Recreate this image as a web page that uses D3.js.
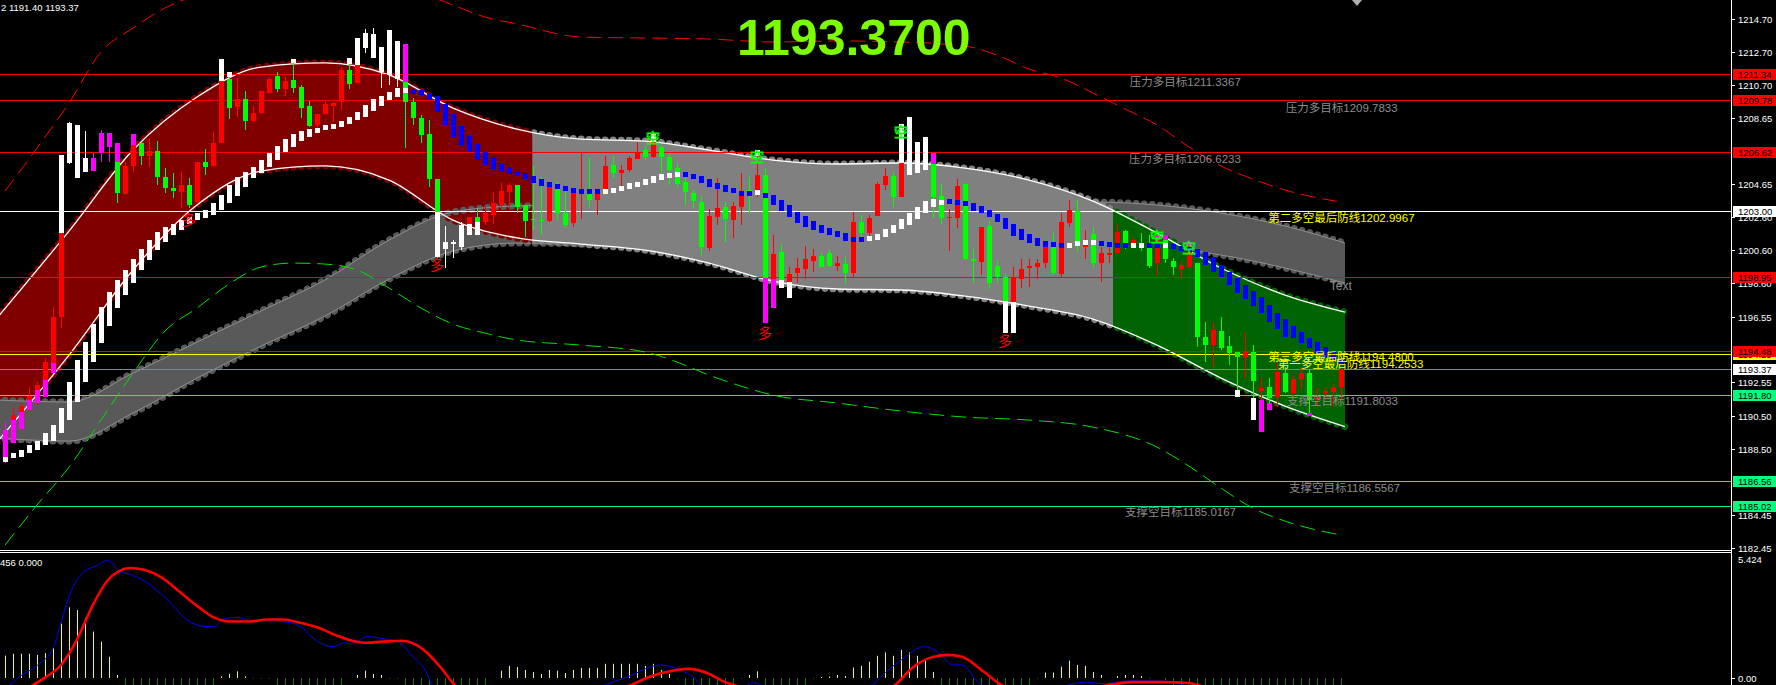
<!DOCTYPE html>
<html><head><meta charset="utf-8">
<script src="https://cdn.jsdelivr.net/npm/d3@7"></script>
<style>
html,body{margin:0;padding:0;background:#000;overflow:hidden}
svg{display:block}
text{font-family:"Liberation Sans",Arial,"Noto Sans CJK SC",sans-serif}
</style></head><body>
<svg id="c" width="1776" height="685"></svg>
<script>
// ---------------- DATA ----------------
const open=[1189.64,1189.13,1189.68,1190.86,1191.27,1191.67,1193.10,1196.55,1205.90,1205.39,
1205.39,1205.45,1206.51,1206.92,1207.12,1204.03,1205.74,1207.12,1206.35,1206.65,
1205.05,1204.38,1204.17,1204.58,1203.56,1205.96,1205.76,1207.16,1211.02,1209.31,
1209.82,1208.50,1208.95,1210.21,1211.23,1210.43,1210.98,1210.57,1209.40,1208.24,
1208.91,1209.40,1209.66,1211.59,1210.78,1212.91,1212.30,1211.49,1211.29,1211.02,
1213.18,1209.66,1208.64,1207.69,1204.92,1200.66,1201.06,1200.82,1201.53,1202.65,
1202.34,1202.75,1203.36,1204.17,1204.58,1203.36,1202.51,1202.44,1202.38,1204.34,
1202.85,1202.24,1204.03,1204.11,1203.66,1204.17,1205.80,1205.33,1205.49,1206.14,
1206.71,1206.31,1206.92,1206.31,1205.64,1204.78,1204.07,1203.56,1200.72,1202.65,
1203.22,1202.44,1203.26,1204.27,1204.17,1205.19,1197.06,1200.51,1197.67,1199.19,
1199.44,1199.97,1200.25,1200.41,1199.66,1199.74,1199.19,1202.34,1201.63,1202.69,
1204.58,1205.13,1203.87,1205.90,1205.90,1205.90,1206.55,1203.91,1202.59,1202.59,
1204.62,1200.09,1199.90,1202.08,1199.64,1198.99,1195.53,1198.83,1199.50,1199.56,
1199.80,1201.02,1199.15,1202.24,1203.01,1200.82,1201.59,1199.80,1200.31,1200.41,
1201.77,1201.02,1201.06,1200.82,1199.80,1201.53,1199.97,1199.44,1199.56,1199.80,
1195.29,1194.82,1195.68,1194.76,1194.42,1194.11,1194.42,1192.04,1192.24,1191.67,
1193.14,1191.92,1192.73,1193.14,1191.47,1191.88,1191.98,1192.28];
const high=[1190.11,1190.96,1191.27,1192.28,1192.59,1194.01,1197.16,1206.41,1208.44,1208.24,
1207.87,1206.51,1207.93,1207.73,1207.12,1206.00,1207.69,1207.12,1207.42,1207.26,
1205.60,1205.29,1205.39,1204.99,1205.96,1206.77,1207.83,1212.24,1211.49,1211.08,
1210.31,1209.40,1210.31,1211.18,1211.49,1211.14,1212.24,1210.68,1209.72,1208.91,
1209.72,1209.66,1211.69,1212.30,1213.52,1214.07,1214.13,1213.01,1214.03,1213.36,
1213.18,1209.86,1208.85,1208.54,1204.92,1202.08,1201.23,1202.34,1202.65,1203.10,
1203.30,1204.15,1204.68,1204.68,1204.58,1203.36,1205.76,1205.09,1204.74,1204.74,
1204.27,1204.38,1206.61,1206.21,1204.27,1206.35,1206.35,1205.80,1206.35,1207.18,
1206.96,1207.73,1207.02,1206.51,1205.90,1205.09,1204.27,1203.91,1203.12,1204.99,
1203.56,1203.56,1205.29,1205.09,1206.71,1205.60,1201.53,1200.98,1199.56,1200.15,
1200.86,1200.66,1200.41,1200.62,1200.25,1200.21,1202.95,1202.75,1202.75,1204.74,
1205.60,1205.39,1208.30,1208.75,1207.22,1207.53,1206.55,1204.64,1203.10,1204.92,
1204.68,1200.66,1202.04,1202.40,1200.01,1199.19,1199.60,1200.05,1200.05,1200.05,
1201.02,1201.63,1202.85,1203.66,1203.66,1201.84,1202.04,1200.82,1201.02,1202.20,
1201.84,1201.33,1201.63,1201.53,1201.53,1201.53,1200.11,1199.90,1201.12,1199.84,
1196.25,1196.25,1196.55,1195.37,1194.42,1195.53,1194.82,1192.79,1192.79,1193.81,
1193.50,1192.99,1193.50,1193.30,1192.28,1192.18,1192.48,1193.50];
const low=[1187.61,1188.87,1189.64,1190.82,1191.16,1191.67,1193.10,1195.84,1205.86,1204.99,
1205.39,1205.45,1206.00,1206.00,1203.46,1203.97,1205.39,1205.80,1205.70,1204.58,
1204.07,1203.77,1203.16,1203.16,1203.46,1205.19,1205.70,1207.12,1208.58,1208.75,
1207.93,1208.38,1208.89,1210.17,1210.27,1210.01,1210.21,1208.64,1208.10,1208.10,
1208.85,1208.44,1209.15,1210.41,1210.78,1212.61,1212.30,1210.47,1210.68,1210.57,
1206.81,1208.24,1207.12,1204.48,1200.11,1199.50,1200.11,1200.62,1201.53,1201.53,
1202.14,1202.18,1203.26,1203.26,1202.89,1201.43,1201.84,1201.53,1202.34,1202.44,
1201.94,1202.00,1202.51,1203.26,1202.75,1204.07,1204.99,1204.48,1205.39,1206.14,
1206.10,1206.21,1205.29,1204.58,1204.48,1203.36,1203.16,1200.31,1200.57,1202.14,
1201.12,1201.33,1202.14,1202.89,1203.87,1196.14,1197.06,1198.28,1197.67,1198.58,
1198.83,1199.29,1199.56,1199.60,1199.36,1198.52,1198.89,1201.43,1201.23,1202.69,
1204.27,1203.26,1203.87,1205.19,1205.29,1205.49,1202.55,1202.20,1200.55,1201.94,
1200.01,1198.58,1199.09,1198.22,1198.58,1195.53,1195.53,1198.28,1198.38,1198.83,
1199.50,1199.09,1198.89,1202.04,1200.51,1200.05,1199.50,1198.68,1199.80,1200.41,
1200.66,1200.82,1200.57,1199.50,1199.09,1199.84,1199.09,1198.83,1199.50,1194.72,
1193.81,1193.50,1194.52,1193.60,1191.63,1192.79,1190.25,1189.54,1190.86,1191.06,
1191.88,1191.67,1192.08,1190.49,1191.06,1191.47,1191.06,1191.40];
const close=[1187.71,1190.55,1191.10,1191.71,1192.38,1193.81,1196.55,1206.41,1208.34,1208.24,
1206.21,1206.21,1207.73,1207.73,1204.07,1205.74,1207.69,1206.35,1206.65,1205.09,
1204.38,1204.23,1204.58,1203.36,1205.96,1205.70,1207.12,1212.24,1209.29,1209.80,
1208.50,1208.95,1210.31,1211.02,1210.43,1210.92,1210.47,1209.25,1208.18,1208.91,
1209.52,1209.60,1211.59,1210.74,1213.52,1213.83,1213.79,1213.01,1214.03,1213.36,
1209.66,1208.64,1207.63,1204.92,1200.21,1201.12,1201.12,1202.14,1202.65,1201.53,
1202.85,1203.50,1204.21,1204.58,1203.26,1202.38,1202.44,1202.38,1204.48,1202.85,
1202.14,1204.11,1204.21,1203.66,1204.11,1205.74,1205.29,1205.49,1206.25,1206.55,
1206.27,1207.73,1206.31,1205.49,1204.64,1204.17,1203.62,1200.82,1202.71,1203.20,
1202.51,1203.32,1204.07,1203.97,1205.19,1196.14,1200.37,1198.28,1199.15,1199.50,
1200.05,1200.25,1199.60,1199.66,1199.80,1199.19,1202.34,1201.63,1202.59,1204.64,
1205.13,1203.87,1208.30,1208.75,1207.22,1207.53,1203.87,1202.59,1202.65,1204.52,
1200.05,1199.97,1202.04,1198.58,1198.99,1195.53,1198.99,1199.44,1199.64,1199.80,
1200.78,1199.19,1202.34,1203.05,1201.12,1201.06,1199.80,1200.41,1200.41,1201.73,
1200.72,1201.23,1200.72,1199.64,1201.53,1200.05,1199.60,1199.70,1201.12,1195.33,
1194.82,1195.74,1194.62,1194.36,1194.07,1194.42,1192.65,1192.18,1191.57,1193.20,
1191.98,1192.73,1193.14,1191.47,1191.67,1192.04,1192.28,1193.37];

// signal overlays (band-breakout painting): bar index, top, bottom, type (w = white, m = magenta)
const sigIdx=[0,1,2,3,4,5,6,7,8,9,10,11,12,13,14,16,27,28,36,43,44,45,46,47,48,49,50,54,55,56,57,58,59,81,94,95,96,97,98,112,113,114,115,116,125,126,144,145,148,154,156,157,158,163];
const sigHi=[1189.64,1190.25,1190.76,1191.47,1192.08,1192.69,1193.71,1206.41,1208.34,1208.24,1206.21,1206.21,1207.73,1207.73,1207.12,1207.69,1212.24,1211.49,1212.24,1212.30,1213.52,1213.83,1213.79,1213.01,1214.03,1213.36,1213.18,1202.95,1201.12,1201.12,1202.14,1202.20,1202.34,1207.73,1206.71,1198.89,1198.83,1198.79,1198.68,1208.30,1208.75,1207.22,1207.53,1206.55,1197.53,1197.47,1201.53,1201.53,1201.12,1192.08,1191.61,1191.47,1191.27,1190.66];
const sigLo=[1187.71,1188.87,1189.68,1190.86,1191.27,1191.67,1193.10,1201.63,1205.90,1204.99,1205.39,1205.45,1206.51,1206.92,1206.00,1207.02,1210.92,1211.18,1212.00,1211.94,1211.90,1212.91,1212.30,1211.49,1211.29,1211.02,1210.88,1200.21,1200.66,1201.06,1200.82,1201.53,1201.53,1207.22,1206.35,1196.14,1197.06,1198.28,1197.67,1205.90,1205.19,1205.29,1205.49,1205.86,1195.53,1195.53,1201.23,1201.23,1200.86,1191.63,1190.25,1189.54,1190.86,1190.49];
const sigType="mmmmmmmwwwwmmmmmwwwwwwwwwwmwwwwwwwwmmwwwwwwmwwmmmwwmmm";

// trend line (two buffers painted as a bar), direction runs: [rising?, count]
const maHi=[1188.01,1188.22,1188.42,1188.73,1188.99,1189.44,1189.94,1190.96,1192.59,1193.91,
1195.03,1196.10,1197.16,1198.08,1198.79,1199.40,1200.05,1200.66,1201.23,1201.73,
1202.00,1202.20,1202.44,1202.65,1202.85,1203.05,1203.46,1203.97,1204.58,1205.09,
1205.39,1205.70,1206.10,1206.55,1206.96,1207.36,1207.67,1207.87,1207.99,1208.08,
1208.18,1208.24,1208.50,1208.75,1209.05,1209.46,1209.82,1210.01,1210.27,1210.47,
1210.47,1210.33,1210.33,1210.21,1210.01,1209.52,1208.91,1208.24,1207.63,1207.08,
1206.61,1206.27,1205.90,1205.66,1205.45,1205.29,1205.15,1204.92,1204.78,1204.64,
1204.52,1204.38,1204.27,1204.21,1204.21,1204.21,1204.31,1204.48,1204.68,1204.78,
1204.94,1205.13,1205.25,1205.25,1205.25,1205.25,1205.19,1205.13,1204.94,1204.72,
1204.58,1204.38,1204.21,1204.17,1204.17,1204.11,1203.97,1203.66,1203.36,1202.95,
1202.69,1202.38,1202.14,1201.94,1201.77,1201.63,1201.43,1201.33,1201.37,1201.59,
1201.88,1202.16,1202.49,1202.89,1203.22,1203.60,1203.73,1203.66,1203.60,1203.56,
1203.56,1203.48,1203.30,1203.05,1202.81,1202.55,1202.20,1201.88,1201.57,1201.33,
1201.16,1201.06,1200.96,1201.02,1201.12,1201.12,1201.12,1201.12,1201.02,1200.98,
1200.92,1200.92,1200.92,1200.92,1200.92,1200.92,1200.92,1200.82,1200.76,1200.66,
1200.51,1200.17,1199.70,1199.29,1198.89,1198.48,1198.14,1197.77,1197.26,1196.75,
1196.39,1195.98,1195.64,1195.23,1195.03,1194.72,1194.42,1194.11];
const maLo=[1187.71,1187.91,1188.01,1188.22,1188.42,1188.73,1188.99,1189.44,1190.25,1191.37,
1192.59,1193.81,1194.97,1195.98,1197.06,1197.87,1198.62,1199.40,1200.01,1200.62,
1201.12,1201.53,1201.84,1202.20,1202.44,1202.55,1202.75,1203.05,1203.50,1203.91,
1204.48,1204.99,1205.33,1205.70,1206.10,1206.61,1206.92,1207.28,1207.53,1207.77,
1207.97,1208.03,1208.10,1208.30,1208.54,1208.75,1209.11,1209.42,1209.76,1209.97,
1210.17,1210.17,1210.07,1209.76,1209.05,1208.24,1207.53,1206.96,1206.61,1206.10,
1205.80,1205.49,1205.39,1205.25,1205.13,1204.88,1204.72,1204.54,1204.44,1204.34,
1204.23,1204.11,1204.07,1204.11,1204.11,1204.11,1204.15,1204.25,1204.36,1204.44,
1204.58,1204.68,1204.88,1205.03,1205.15,1205.13,1205.05,1204.72,1204.48,1204.34,
1204.17,1204.07,1203.97,1203.97,1204.03,1203.77,1203.36,1203.01,1202.61,1202.28,
1202.04,1201.84,1201.63,1201.53,1201.39,1201.18,1201.12,1201.23,1201.23,1201.23,
1201.39,1201.63,1201.88,1202.14,1202.53,1202.89,1203.22,1203.42,1203.50,1203.46,
1203.36,1203.01,1202.85,1202.61,1202.30,1201.88,1201.47,1201.23,1201.06,1200.86,
1200.82,1200.82,1200.82,1200.82,1200.86,1201.02,1201.02,1200.92,1200.88,1200.82,
1200.82,1200.82,1200.82,1200.82,1200.82,1200.82,1200.72,1200.62,1200.57,1200.21,
1199.70,1199.29,1198.95,1198.48,1198.01,1197.61,1197.20,1196.75,1196.25,1195.78,
1195.29,1195.23,1194.97,1194.62,1194.31,1194.01,1193.81,1193.60];
const maDirRuns=[[1,51],[0,24],[1,10],[0,9],[1,1],[0,13],[1,10],[0,15],[1,4],[0,4],[1,2],[0,2],[1,1],[0,22]];

// regression channel (bar index -> upper / lower price) and regime breaks
const chIdx=[-1,8,16,24,32,40,48,56,64,72,80,88,96,104,112,120,128,136,144,152,160,167.5];
const chUp=[1196.47,1201.77,1206.71,1209.94,1211.77,1212.02,1211.29,1209.27,1207.99,1207.38,1207.26,1206.71,1206.10,1205.86,1205.92,1205.61,1204.88,1203.60,1201.65,1199.52,1197.87,1196.83];
const chDn=[1188.91,1194.21,1199.40,1203.36,1205.43,1205.74,1204.88,1202.44,1201.35,1200.98,1200.61,1199.82,1198.72,1198.24,1198.18,1197.81,1197.20,1196.41,1194.82,1192.81,1191.10,1189.85];
const regimeBreaks=[65.9,138.5];

// second (dark) channel
const dkIdx=[-1,8,16,24,32,40,48,56,64,80,96,112,128,136,144,152,160,167.5];
const dkUp=[1191.47,1191.35,1193.11,1195.00,1196.90,1198.79,1201.22,1202.93,1203.30,1203.42,1203.48,1203.48,1203.54,1203.54,1203.36,1202.87,1202.08,1201.04];
const dkDn=[1189.15,1188.97,1190.68,1192.81,1194.76,1196.59,1198.85,1200.55,1201.04,1200.92,1200.79,1200.74,1200.67,1200.67,1200.74,1200.31,1199.52,1198.60];

// envelopes (dashed)
const envUpIdx=[0,4,8,12,16,20,24,32,40,48,56,60,64,72,80,88,96,104,112,120,124,128,132,136,140,144,148,152,156,160,167];
const envUp=[1204.21,1206.83,1209.58,1212.69,1214.15,1215.37,1216.16,1217.08,1217.39,1216.96,1215.55,1214.82,1214.40,1213.60,1213.54,1213.48,1213.30,1213.36,1213.30,1213.05,1212.50,1211.65,1211.10,1210.19,1209.21,1208.24,1206.90,1205.74,1204.94,1204.27,1203.54];
const envLoIdx=[0,4,8,12,16,20,24,28,32,36,40,44,48,52,56,60,64,72,80,84,88,92,96,104,112,120,128,136,144,148,152,156,160,167];
const envLo=[1182.63,1185.07,1187.38,1190.25,1193.11,1195.68,1197.08,1198.54,1199.58,1199.82,1199.76,1199.40,1198.30,1197.08,1196.10,1195.55,1195.13,1194.82,1194.40,1193.79,1192.99,1192.32,1191.77,1191.29,1190.80,1190.43,1190.25,1189.82,1188.60,1187.44,1186.10,1184.88,1184.09,1183.24];

// horizontal levels
const levelPrice=[1194.25,1211.34,1209.78,1206.62,1203.00,1198.95,1194.48,1193.37,1191.80,1186.56,1185.02];
const levelKind=['aux','res','res','res','pivot','res','res','last','sup','sup','sup'];

// text objects: text, bar index of left edge, price at text centre, kind
const noteText=["压力多目标1211.3367","压力多目标1209.7833","压力多目标1206.6233","第二多空最后防线1202.9967","Text","第三多空最后防线1194.4800","第一多空最后防线1194.2533","支撑空目标1191.8033","支撑空目标1186.5567","支撑空目标1185.0167"];
const noteIdx=[140.6,160.1,140.5,157.9,165.6,157.9,159.1,160.25,160.5,140.0];
const notePrice=[1210.86,1209.27,1206.16,1202.57,1198.42,1194.09,1193.66,1191.41,1186.10,1184.64];
const noteKind=['gray','gray','gray','yellow','gray','yellow','yellow','gray','gray','gray'];

// signal glyphs
const buyIdx=[23,54,95,125];
const buyPrice=[1202.44,1199.70,1195.55,1195.07];
const sellIdx=[81,94,112,144,148];
const sellPrice=[1207.44,1206.29,1207.81,1201.41,1200.74];

// price axis
const priceTicks=[1214.70,1212.70,1210.70,1208.65,1204.65,1202.60,1200.60,1198.60,1196.55,1192.55,1190.50,1188.50,1184.45,1182.45];
const lastPrice=1193.37;
const headerText="2 1191.40 1193.37";
const macdHeader="456 0.000";
const macdMax=5.424;

// MACD
const macdIdx=[-1,0.6,1.75,4.1,6.1,7,8.25,9.9,11.4,12.5,13,14.25,15.6,17.5,20,23.25,25.25,26.1,27.1,29,31,32.9,34.75,36.75,39.1,41,42.4,43.4,45.25,47.25,49.1,51,52.5,53.4,56,60,66,72,75,77.75,81.9,84.4,86.4,86.9,89,92,93.6,95,98,102,106,108.4,110.1,112.4,114.9,116.75,118.5,119.6,121.75,124,127,131,133.5,135.25,137.4,140.25,144.1,146.9,150,155,160,167];
const macdMain=[-0.8,-0.31,0.04,0.57,1.37,2.43,3.79,4.67,4.90,5.12,5.12,4.67,4.54,4.23,3.53,2.43,2.25,2.25,2.56,2.65,2.51,2.51,2.47,2.29,1.59,1.37,1.54,1.50,1.81,1.72,1.59,0.93,0.35,-0.31,-1.6,-2.0,-1.6,-0.9,-0.31,0.04,0.57,0.35,-0.09,-0.31,-0.8,-0.5,-0.2,-0.5,-1.5,-1.3,-0.7,-0.31,0.26,0.88,1.37,1.10,0.57,0.57,-0.22,-0.7,-0.9,-0.5,-0.26,-0.18,-0.26,-0.13,-0.13,-0.26,-1.0,-2.0,-2.5,-2.6];
const sigLineIdx=[-1,3.5,5.1,7,9,10.9,12.75,14.25,15.6,17.5,19.5,21.9,24.25,26.1,28.1,30.5,32.9,34.75,36.75,39.1,41.5,43.4,45.25,47.25,49.6,52,54.4,56,60,66,72,78.25,80.5,83.9,85.5,87.75,90,91.1,96,102,108,111.25,113.4,115.6,117.9,119.6,122.4,124.6,130,135,138,140.75,144.75,148,149.1,155,160,167];
const macdSignal=[-1.2,-0.31,0.04,0.57,1.68,3.13,4.23,4.67,4.81,4.72,4.41,3.75,3.09,2.65,2.47,2.47,2.56,2.56,2.43,2.21,1.85,1.63,1.54,1.59,1.63,1.32,0.49,-0.22,-1.2,-1.4,-1.0,-0.31,0.04,0.35,0.40,0.22,-0.18,-0.31,-0.9,-1.1,-0.8,-0.31,0.44,0.88,1.01,0.93,0.26,-0.31,-0.7,-0.5,-0.31,-0.18,-0.18,-0.22,-0.31,-1.2,-1.8,-2.2];
const macdHist=[0.98,1.06,1.06,1.06,1.01,1.09,1.31,2.38,3.09,2.97,2.63,2.03,1.59,0.93,0.13,
-0.5,-0.5,-0.5,-0.5,-0.5,-0.5,-0.5,-0.5,-0.5,-0.5,-0.5,-0.5,
0.07,0.19,0.29,0.07,-0.03,-0.03,-0.03,
-0.5,-0.5,-0.5,-0.5,-0.5,-0.5,-0.5,-0.5,-0.5,
0,0.13,0.32,0.18,0.13,-0.04,-0.04,
-0.5,-0.5,-0.5,-0.5,-0.5,-0.5,-0.5,-0.5,-0.5,-0.5,-0.5,
0,0.32,0.53,0.48,0.35,0.26,0.18,0.35,0.32,0.22,0.35,0.44,0.44,0.44,
0.62,0.62,0.62,0.62,0.62,0.53,0.62,0.35,0.18,-0.04,
-0.5,-0.5,-0.5,-0.5,-0.5,-0.5,-0.5,-0.04,0.13,0.29,
-0.5,-0.5,-0.5,-0.5,-0.5,-0.5,-0.04,
0.04,0.06,0.13,0.09,0.46,0.53,0.71,0.97,1.12,0.97,1.23,1.12,0.97,0.79,0.26,
-0.5,-0.5,-0.5,-0.5,-0.5,-0.5,-0.5,-0.5,-0.5,-0.5,-0.5,-0.5,-0.04,
0.24,0.24,0.50,0.76,0.57,0.53,0.26,0.13,0,0.09,0.13,0.13,0.09,-0.04,0,-0.1,
-0.5,-0.5,-0.5,-0.5,-0.5,-0.5,-0.5,-0.5,-0.5,-0.5,-0.5,-0.5,-0.5,-0.5,-0.5,-0.5,-0.5,-0.5,-0.5,-0.5,-0.5,-0.5];

// ---------------- DRAW ----------------
const W=1776,H=685,AX=1731;
const svg=d3.select('#c');
svg.append('rect').attr('width',W).attr('height',H).attr('fill','#000');
const defs=svg.append('defs');
function clip(id,x0,y0,w,h){defs.append('clipPath').attr('id',id).append('rect').attr('x',x0).attr('y',y0).attr('width',w).attr('height',h);return `url(#${id})`;}

const x=d3.scaleLinear().domain([0,167]).range([5,1341]);
const y=d3.scaleLinear().domain([1182.45,1214.70]).range([548,19]);
const ym=d3.scaleLinear().domain([0,macdMax]).range([678,554]);

const main=svg.append('g').attr('clip-path',clip('cm',0,0,AX,550));

function bandPaths(idx,up,dn){
  const pts=idx.map((i,k)=>({i,hi:up[k],lo:dn[k]}));
  const c=d3.curveMonotoneX;
  return {
    up:d3.line().x(d=>x(d.i)).y(d=>y(d.hi)).curve(c)(pts),
    dn:d3.line().x(d=>x(d.i)).y(d=>y(d.lo)).curve(c)(pts),
    area:d3.area().x(d=>x(d.i)).y0(d=>y(d.lo)).y1(d=>y(d.hi)).curve(c)(pts)
  };
}
function scallops(g,d,col){
  g.append('path').attr('d',d).attr('fill','none').attr('stroke',col).attr('stroke-width',7)
   .attr('stroke-linecap','round').attr('stroke-dasharray','0.01 8');
}
function edge(g,d,col,w){g.append('path').attr('d',d).attr('fill','none').attr('stroke',col).attr('stroke-width',w);}

const DK='#595959', DKL='#8e8e8e';
const dk=bandPaths(dkIdx,dkUp,dkDn);
const ch=bandPaths(chIdx,chUp,chDn);

// dark channel (under)
const gdk=main.append('g');
scallops(gdk,dk.up,DK);scallops(gdk,dk.dn,DK);
gdk.append('path').attr('d',dk.area).attr('fill',DK);
edge(gdk,dk.up,DKL,1);edge(gdk,dk.dn,DKL,1);

// main channel segments
const segCols=['#800000','#808080','#006400'];
const bx=[-20,x(regimeBreaks[0]),x(regimeBreaks[1]),x(168)+2];
segCols.forEach((col,k)=>{
  const g=main.append('g').attr('clip-path',clip('seg'+k,bx[k],0,bx[k+1]-bx[k],550));
  scallops(g,ch.up,col);scallops(g,ch.dn,col);
  g.append('path').attr('d',ch.area).attr('fill',col);
});
// dark channel on top on the far left
const gdk2=main.append('g').attr('clip-path',clip('dkl',-20,0,x(53)+20,550));
scallops(gdk2,dk.up,DK);scallops(gdk2,dk.dn,DK);
gdk2.append('path').attr('d',dk.area).attr('fill',DK);
edge(gdk2,dk.up,DKL,1);edge(gdk2,dk.dn,DKL,1);
const gdk3=main.append('g').attr('clip-path',clip('dkm',x(53),0,x(regimeBreaks[0])-x(53),550));
scallops(gdk3,dk.up,DK);edge(gdk3,dk.up,DKL,1);
// channel white edges
const gce=main.append('g').attr('clip-path',clip('cee',-20,0,x(167.5)+20,550));
edge(gce,ch.up,'#ffffff',1.3);edge(gce,ch.dn,'#ffffff',1.3);

// level lines
const lvlCol={res:'#ff0000',pivot:'#ffffff',aux:'#ffff00',last:'#778899',sup:'#00ff7f'};
levelPrice.forEach((p,k)=>{
  main.append('line').attr('x1',0).attr('x2',AX).attr('y1',Math.round(y(p))+0.5).attr('y2',Math.round(y(p))+0.5)
    .attr('stroke',lvlCol[levelKind[k]]).attr('stroke-width',1);
});

// dashed envelopes
main.append('path').attr('d',d3.line().x((d,k)=>x(envUpIdx[k])).y(d=>y(d)).curve(d3.curveMonotoneX)(envUp))
  .attr('fill','none').attr('stroke','#ff0000').attr('stroke-width',1).attr('stroke-dasharray','15 7');
main.append('path').attr('d',d3.line().x((d,k)=>x(envLoIdx[k])).y(d=>y(d)).curve(d3.curveMonotoneX)(envLo))
  .attr('fill','none').attr('stroke','#00e000').attr('stroke-width',1).attr('stroke-dasharray','15 7');

// candles
const BW=5;
const sigByIdx={};
sigIdx.forEach((i,k)=>sigByIdx[i]={hi:sigHi[k],lo:sigLo[k],t:sigType[k]});
const gc=main.append('g').attr('shape-rendering','crispEdges');
open.forEach((o,i)=>{
  const c=close[i], up=c>=o;
  let col=up?'#ff0000':'#00ff00';
  const s=sigByIdx[i];
  const sc=s?(s.t==='w'?'#ffffff':'#ff00ff'):null;
  let wickCol=col;
  if(s && s.hi>=Math.max(o,c)-0.05 && s.lo<=Math.min(o,c)+0.05) wickCol=sc;
  const cx=Math.round(x(i));
  gc.append('line').attr('x1',cx+0.5).attr('x2',cx+0.5).attr('y1',y(high[i])).attr('y2',y(low[i])).attr('stroke',wickCol).attr('stroke-width',1);
  const yt=y(Math.max(o,c)), yb=y(Math.min(o,c));
  gc.append('rect').attr('x',cx-2).attr('width',BW).attr('y',yt).attr('height',Math.max(1,yb-yt)).attr('fill',col);
  if(s){
    const st=y(s.hi), sb=y(s.lo);
    gc.append('rect').attr('x',cx-2).attr('width',BW).attr('y',st).attr('height',Math.max(2,sb-st)).attr('fill',sc);
  }
});
// trend bars
const maUp=[];maDirRuns.forEach(([v,n])=>{for(let j=0;j<n;j++)maUp.push(v);});
maHi.forEach((hv,i)=>{
  const cx=Math.round(x(i));
  const t=y(hv), b=y(maLo[i]);
  const h=Math.max(5,b-t);
  gc.append('rect').attr('x',cx-2).attr('width',BW).attr('y',(t+b)/2-h/2).attr('height',h)
    .attr('fill',maUp[i]?'#ffffff':'#0000ff');
});

// signal glyphs
buyIdx.forEach((i,k)=>main.append('text').attr('x',x(i)).attr('y',y(buyPrice[k])).attr('text-anchor','middle')
  .attr('dominant-baseline','central').attr('fill','#ff0000').attr('font-size',14).text('多'));
sellIdx.forEach((i,k)=>main.append('text').attr('x',x(i)).attr('y',y(sellPrice[k])).attr('text-anchor','middle')
  .attr('dominant-baseline','central').attr('fill','none').attr('stroke','#00ff00').attr('stroke-width',0.8).attr('font-size',14).text('空'));

// notes
const noteCol={gray:'#8c8c8c',yellow:'#ffff00'};
noteText.forEach((t,k)=>main.append('text').attr('x',x(noteIdx[k])).attr('y',y(notePrice[k]))
  .attr('dominant-baseline','central').attr('fill',noteCol[noteKind[k]]).attr('font-size',t==='Text'?12:11.5).text(t));

// big last price
main.append('text').attr('x',737).attr('y',55).attr('fill','#7cfc00').attr('font-weight','bold')
  .attr('font-size',50).text(d3.format('.4f')(lastPrice));
// header
svg.append('text').attr('x',1).attr('y',11).attr('fill','#ffffff').attr('font-size',9.5).text(headerText);
// chart shift marker
svg.append('path').attr('d',`M${x(169)-5},0L${x(169)+5},0L${x(169)},6Z`).attr('fill','#b0b0b0');

// separator
svg.append('line').attr('x1',0).attr('x2',AX).attr('y1',550.5).attr('y2',550.5).attr('stroke','#fff');
svg.append('line').attr('x1',0).attr('x2',AX).attr('y1',552.5).attr('y2',552.5).attr('stroke','#fff');

// MACD panel
const gm=svg.append('g').attr('clip-path',clip('cmacd',0,553,AX,132));
macdHist.forEach((v,i)=>{
  const cx=Math.round(x(i))+0.5;
  gm.append('line').attr('x1',cx).attr('x2',cx).attr('y1',ym(0)).attr('y2',ym(v))
    .attr('stroke',v>=0?'#ffff00':'#008000').attr('stroke-width',1);
});
gm.append('path').attr('d',d3.line().x((d,k)=>x(macdIdx[k])).y(d=>ym(d)).curve(d3.curveMonotoneX)(macdMain))
  .attr('fill','none').attr('stroke','#0000ff').attr('stroke-width',1);
gm.append('path').attr('d',d3.line().x((d,k)=>x(sigLineIdx[k])).y(d=>ym(d)).curve(d3.curveMonotoneX)(macdSignal))
  .attr('fill','none').attr('stroke','#ff0000').attr('stroke-width',2.6);
svg.append('text').attr('x',0).attr('y',566).attr('fill','#fff').attr('font-size',9.5).text(macdHeader);

// axis
svg.append('line').attr('x1',AX+0.5).attr('x2',AX+0.5).attr('y1',0).attr('y2',H).attr('stroke','#fff');
const ga=svg.append('g');
priceTicks.forEach(p=>{
  const yy=Math.round(y(p))+0.5;
  ga.append('line').attr('x1',AX).attr('x2',AX+4).attr('y1',yy).attr('y2',yy).attr('stroke','#fff');
  ga.append('text').attr('x',AX+7).attr('y',yy).attr('dominant-baseline','central').attr('fill','#fff').attr('font-size',9.5).text(d3.format('.2f')(p));
});
ga.append('text').attr('x',AX+7).attr('y',559).attr('dominant-baseline','central').attr('fill','#fff').attr('font-size',9.5).text(d3.format('.3f')(macdMax));
ga.append('line').attr('x1',AX).attr('x2',AX+4).attr('y1',678.5).attr('y2',678.5).attr('stroke','#fff');
ga.append('text').attr('x',AX+7).attr('y',678).attr('dominant-baseline','central').attr('fill','#fff').attr('font-size',9.5).text('0.00');
// level price tags
const tagBg={res:'#ff0000',pivot:'#ffffff',aux:'#ffff00',last:'#ffffff',sup:'#00ff7f'};
levelPrice.forEach((p,k)=>{
  const yy=Math.round(y(p));
  ga.append('rect').attr('x',AX+2).attr('y',yy-5).attr('width',W-AX-2).attr('height',11).attr('fill',tagBg[levelKind[k]]);
  ga.append('text').attr('x',AX+7).attr('y',yy+0.5).attr('dominant-baseline','central').attr('fill','#000').attr('font-size',9.5).text(d3.format('.2f')(p));
});
</script></body></html>
